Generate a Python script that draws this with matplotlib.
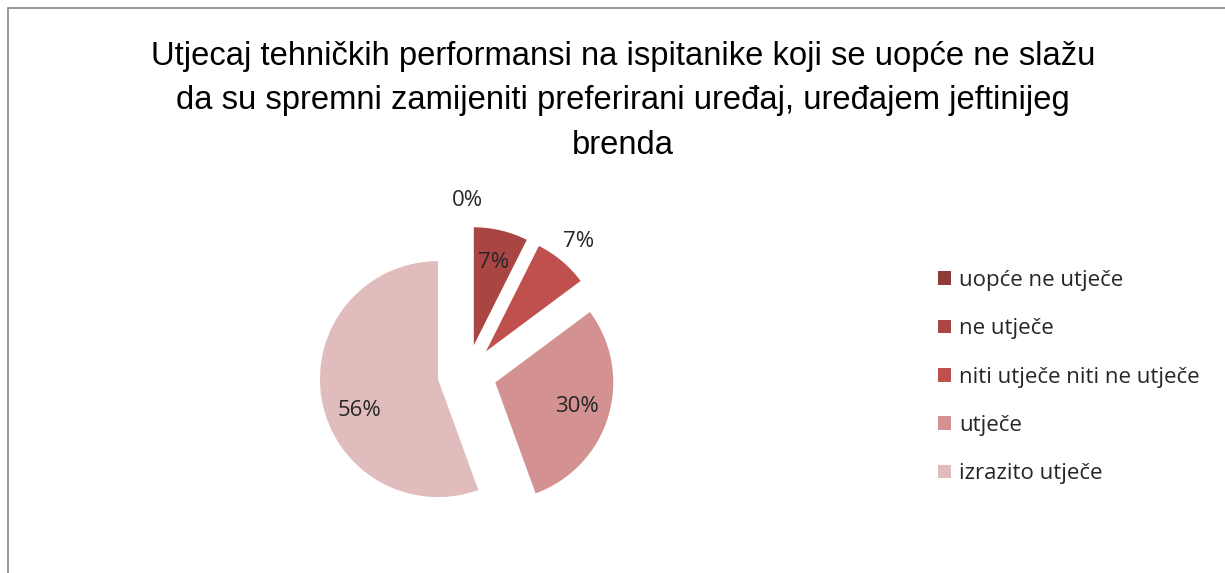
import matplotlib.pyplot as plt
import numpy as np
from matplotlib.patches import Rectangle

# podaci (broj ispitanika po odgovoru)
kategorije = ["uopće ne utječe", "ne utječe", "niti utječe niti ne utječe",
              "utječe", "izrazito utječe"]
vrijednosti = [0, 2, 2, 8, 15]
boje = ["#8E3B39", "#A94543", "#C0504D", "#D39291", "#E1BCBC"]
naslov = ("Utjecaj tehničkih performansi na ispitanike koji se uopće ne slažu\n"
          "da su spremni zamijeniti preferirani uređaj, uređajem jeftinijeg\n"
          "brenda")

title_font = "Liberation Sans"
text_font = "Open Sans"

W, H = 1225, 573
fig = plt.figure(figsize=(W / 100, H / 100), dpi=100)

# okvir grafikona (lijevo i gore)
fig.add_artist(Rectangle((8 / W, -0.5), 2.0, (H - 8) / H + 0.5,
                         transform=fig.transFigure, fill=False,
                         edgecolor="#868686", linewidth=1.2))

fig.text(623 / W, 1 - 101 / H, naslov, ha="center", va="center",
         fontsize=23.6, family=[title_font, "DejaVu Sans"], color="black",
         linespacing=1.58)

# pita: centar (467, 374) px, radijus 118 px
cx, cy, r = 467, 374, 118
half = 1.5 * r
ax = fig.add_axes([(cx - half) / W, (H - cy - half) / H, 2 * half / W, 2 * half / H])

explode = [0.25] * len(vrijednosti)
wedges, texts, autotexts = ax.pie(
    vrijednosti, colors=boje, explode=explode, startangle=90, counterclock=False,
    autopct=lambda p: f"{p:.0f}%", pctdistance=0.72,
    textprops=dict(fontsize=16, family=text_font, color="#262626"),
    wedgeprops=dict(linewidth=0),
)

# pomak oznaka: (udaljenost, zakret u stupnjevima)
pomaci = {0: (1.22, 0), 2: (1.22, 0), 4: (0.72, 12)}
for i, (dist, rot) in pomaci.items():
    w = wedges[i]
    ang = np.deg2rad((w.theta1 + w.theta2) / 2 + rot)
    wx, wy = w.center
    autotexts[i].set_position((wx + dist * np.cos(ang), wy + dist * np.sin(ang)))

ax.set_xlim(-1.5, 1.5)
ax.set_ylim(-1.5, 1.5)
ax.set_aspect("equal")
ax.axis("off")

fig.legend(wedges, kategorije, loc="upper left",
           bbox_to_anchor=(918 / W, 1 - 250 / H), frameon=False,
           prop=dict(family=text_font, size=16), labelcolor="#262626",
           handlelength=0.58, handleheight=0.58, handletextpad=0.36,
           labelspacing=1.23)

fig.savefig("out.png", dpi=100)
